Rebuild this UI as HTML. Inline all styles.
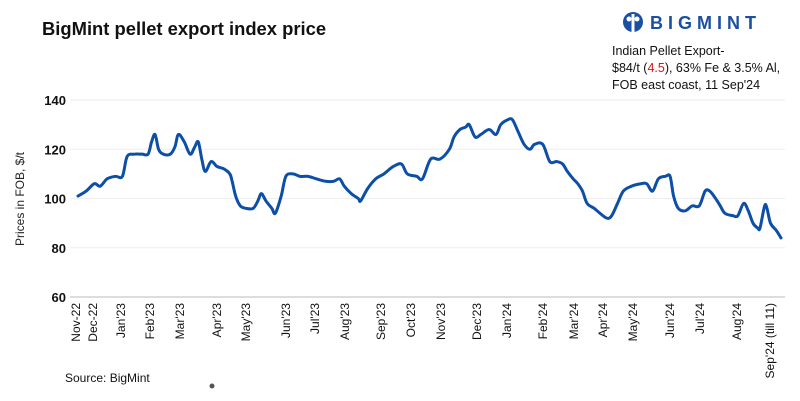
<!DOCTYPE html>
<html><head><meta charset="utf-8">
<style>
body{margin:0;background:#fff;width:800px;height:401px;overflow:hidden;font-family:"Liberation Sans",sans-serif;}
svg{display:block}
</style></head>
<body>
<svg id="c" width="800" height="401">
<text x="42" y="35" font-size="18.4" font-weight="bold" fill="#111">BigMint pellet export index price</text>
<g>
<circle cx="633" cy="22" r="10" fill="#1b4fa0"/>
<circle cx="629" cy="19" r="2.5" fill="#fff"/><circle cx="637" cy="19" r="2.5" fill="#fff"/>
<rect x="631.5" y="14" width="3" height="18" fill="#fff"/>
<text x="650" y="29" font-size="18" font-weight="bold" fill="#1b4fa0" letter-spacing="5">BIGMINT</text>
</g>
<g font-size="12.5" fill="#111">
<text x="612" y="55">Indian Pellet Export-</text>
<text x="612" y="72">$84/t (<tspan fill="#e01010">4.5</tspan>), 63% Fe &amp; 3.5% Al,</text>
<text x="612" y="89">FOB east coast,  11 Sep'24</text>
</g>
<text transform="translate(24,199) rotate(-90)" text-anchor="middle" font-size="12" fill="#222">Prices in FOB, $/t</text>
<g id="grid"></g><g id="ylab"></g><g id="xlab"></g><g id="line"></g>
<text x="65" y="382" font-size="12" fill="#111">Source: BigMint</text>
<circle cx="212" cy="386" r="2.5" fill="#555"/>
</svg>
<script>
const yTicks=[60,80,100,120,140];
const months=["Nov-22","Dec-22","Jan'23","Feb'23","Mar'23","Apr'23","May'23","Jun'23","Jul'23","Aug'23","Sep'23","Oct'23","Nov'23","Dec'23","Jan'24","Feb'24","Mar'24","Apr'24","May'24","Jun'24","Jul'24","Aug'24","Sep'24 (till 11)"];
const monthPos=[76,93,121,150,180,217,246,286,315,345,381,411,441,477,507,543,574,603,633,670,700,737,770];
const t=[78,85,92,97,103,110,116,120,126,133,138,141,144,147,151,157,161,164,169,174,178,181,184,187,192,197,203,208,210,213,217,222,228,232,235,239,244,247,252,256,262,268,275,282,290,297,302,306,312,318,320,326,333,340,348,355,360,368,373,380,388,396,400,405,410,413,418,423,430,436,440,446,450,455,460,465,469,476,482,488,493,497,502,506,510,514,520,525,531,535,540,545,552,560,565,570,575,581,585,588,592,598,604,610,615,619,624,628,632,639,643,648,652,656,660,662,666,668,671,676,680];
const price=[101,103,106,105,108,109,109,117,118,118,118,123,126,120,118,118,121,126,123,118,121,123,116,111,115,113,112,110,107,101,97,96,96,99,102,99,96,94,101,109,110,109,109,108,107,107,108,105,102,100,99,104,108,110,113,114,110,109,108,116,116,120,125,128,129,130,125,126,128,126,130,132,132,127,122,120,122,122,115,115,114,111,108,106,103,98,96,94,92,93,98,103,105,106,106,103,108,109,109,101,96,95,97,97,103,103,100,97,94,93,93,98,95,90,88,88,97,96,90,87,84];
const NS="http://www.w3.org/2000/svg";
const X0=78,X1=781,Y0=297,Y1=100;
const xs=v=>X0+(v-t[0])/(t[t.length-1]-t[0])*(X1-X0);
const ys=v=>Y0-(v-60)/80*(Y0-Y1);
function mk(tag,a,p){const e=document.createElementNS(NS,tag);for(const k in a)e.setAttribute(k,a[k]);p.appendChild(e);return e;}
const g=document.getElementById('grid'),yl=document.getElementById('ylab'),xl=document.getElementById('xlab'),ln=document.getElementById('line');
yTicks.forEach(v=>{
 const l=mk('line',{x1:70,x2:785,y1:ys(v),y2:ys(v),stroke:v==60?'#bbb':'#eee','stroke-width':1},g);
 
 
 const tx=mk('text',{x:66,y:ys(v)+5,'text-anchor':'end','font-size':13,'font-weight':'bold',fill:'#111'},yl);
 tx.textContent=v;
 
 
});
months.forEach((m,i)=>{
 const x=monthPos[i];
 const tx=mk('text',{transform:`translate(${x+4},303) rotate(-90)`,'text-anchor':'end','font-size':12,fill:'#111'},xl);
 tx.textContent=m;
 
 
});
const P=t.map((v,i)=>[xs(v),ys(price[i])]);
let d=`M${P[0][0]},${P[0][1]}`;
for(let i=0;i<P.length-1;i++){
 const p0=P[i-1]||P[i],p1=P[i],p2=P[i+1],p3=P[i+2]||p2;
 const c1=[p1[0]+(p2[0]-p0[0])/6,p1[1]+(p2[1]-p0[1])/6],c2=[p2[0]-(p3[0]-p1[0])/6,p2[1]-(p3[1]-p1[1])/6];
 d+=`C${c1[0]},${c1[1]} ${c2[0]},${c2[1]} ${p2[0]},${p2[1]}`;
}
const path=mk('path',{d:d,fill:'none',stroke:'#0d4ea6','stroke-width':3,'stroke-linejoin':'round','stroke-linecap':'round'},ln);


</script>
</body></html>
